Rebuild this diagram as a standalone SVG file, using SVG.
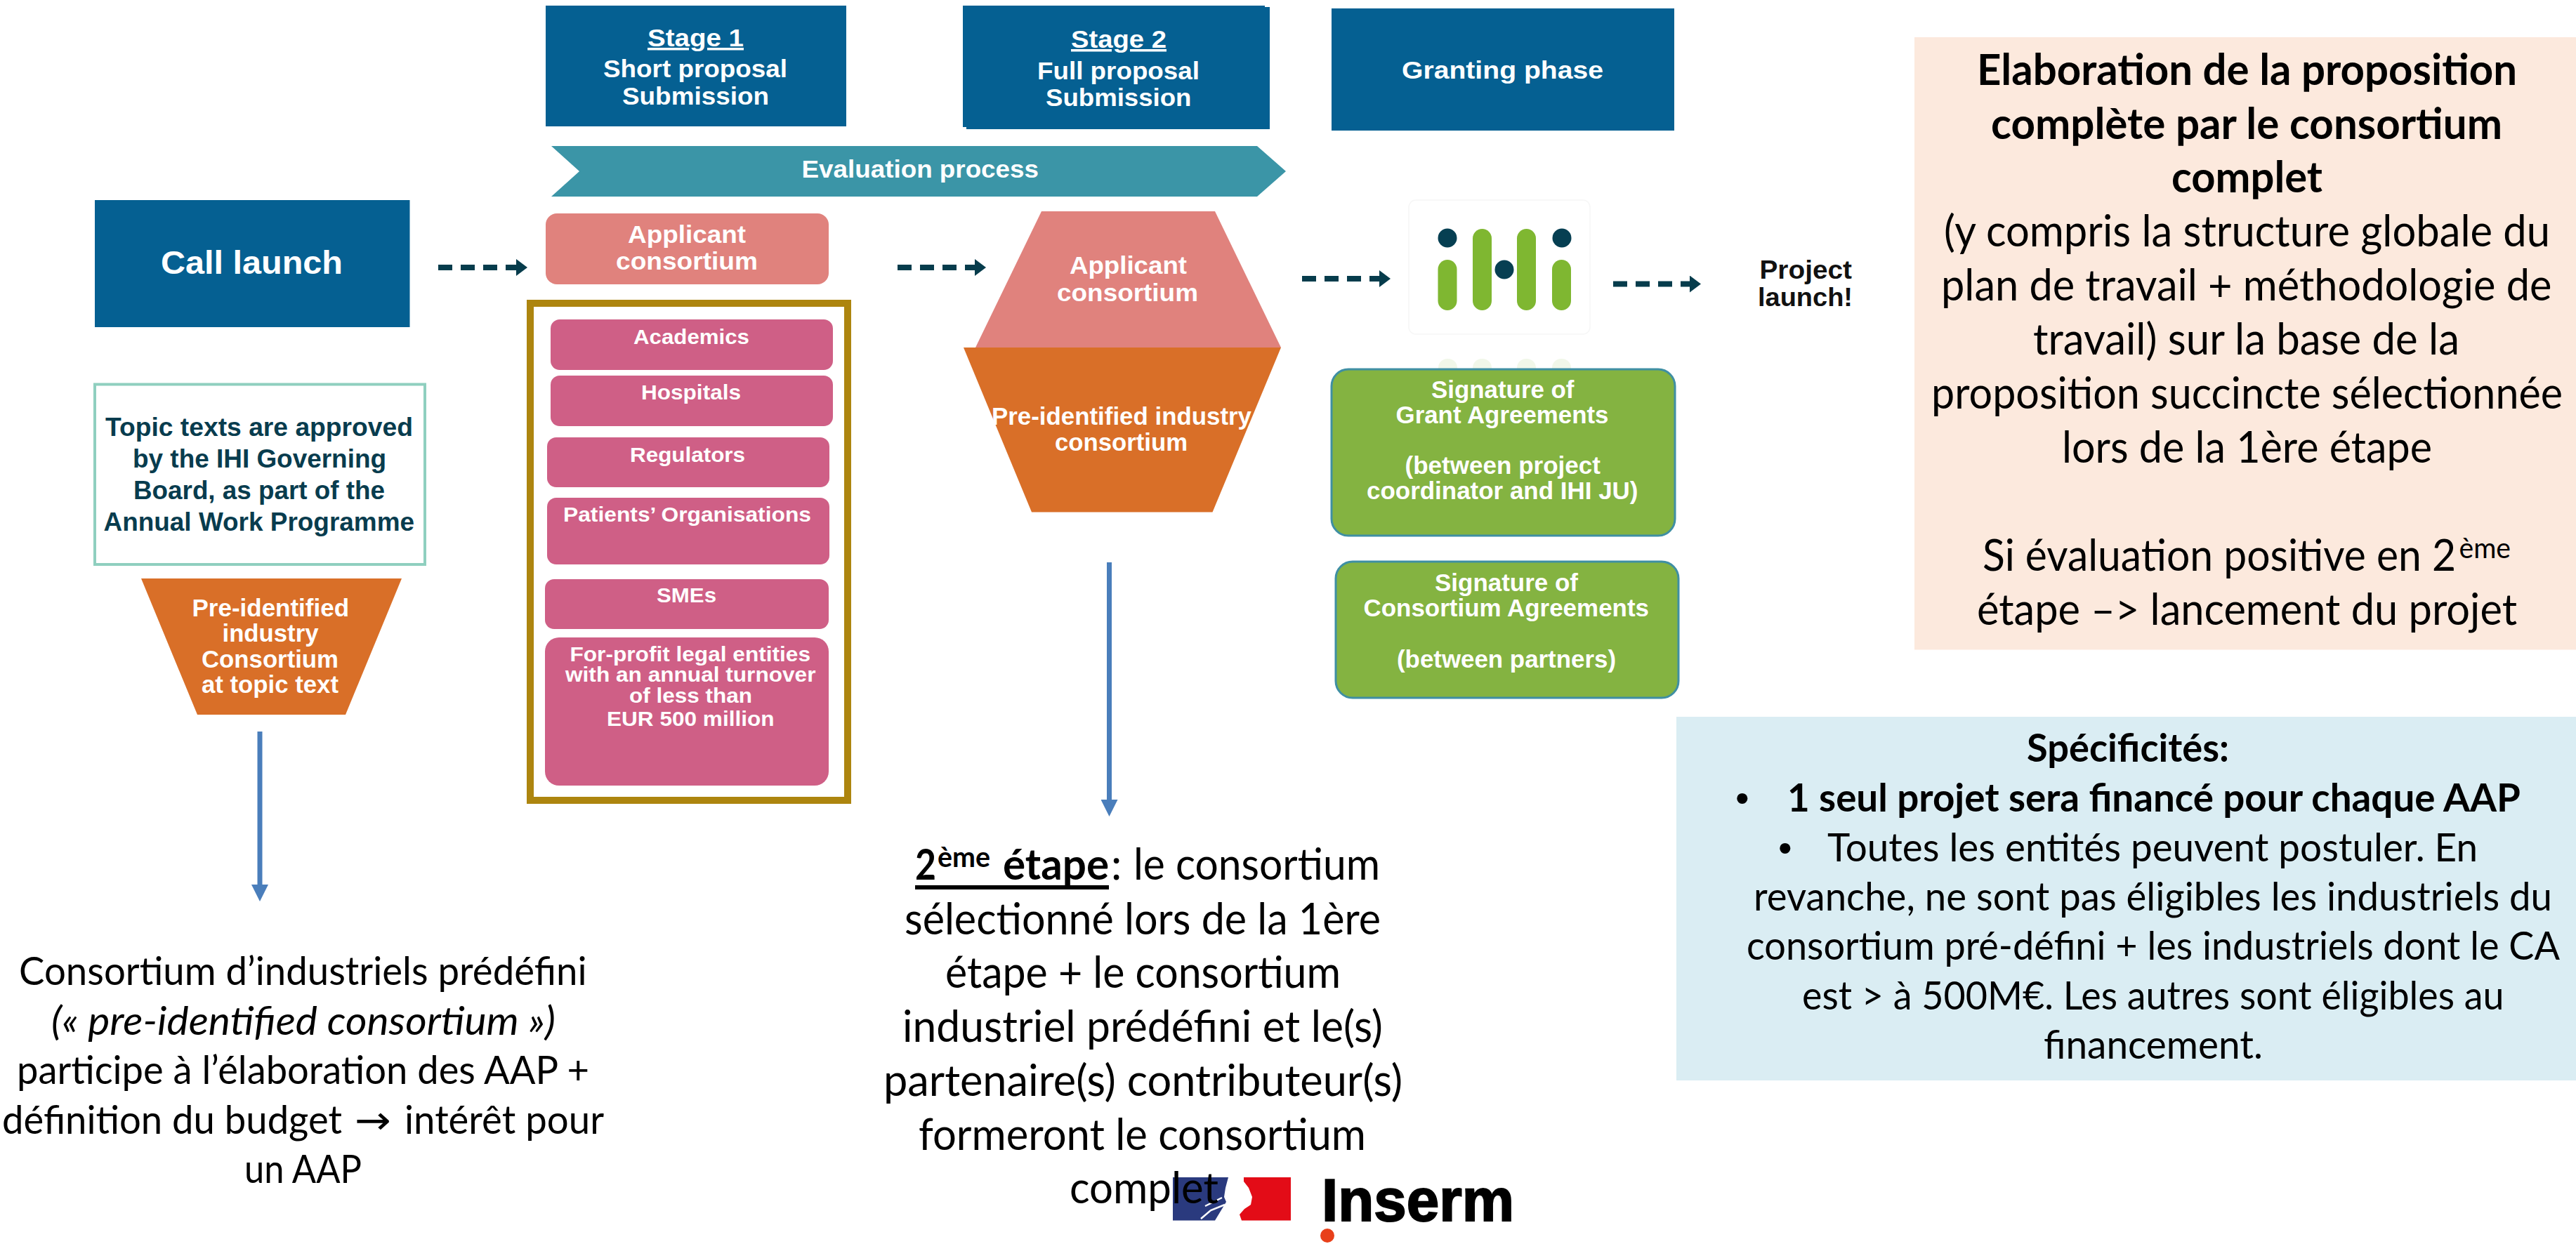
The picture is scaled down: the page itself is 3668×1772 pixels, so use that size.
<svg xmlns="http://www.w3.org/2000/svg" width="3668" height="1772" viewBox="0 0 3668 1772">
<defs>
<style>
text{white-space:pre}
.w{font-family:"Liberation Sans",Arial,sans-serif;font-weight:700;fill:#fff;font-size:35px}
.p{font-size:29px}
.d{font-family:"Liberation Sans",Arial,sans-serif;font-weight:700;fill:#083c4e;font-size:36px}
.k{font-family:"Liberation Sans",Arial,sans-serif;font-weight:700;fill:#111;font-size:37px}
.c{font-family:Lato,"Open Sans",sans-serif;fill:#000;font-size:61px}
.s{font-family:Lato,"Open Sans",sans-serif;fill:#000;font-size:56px}
.b{font-weight:700}
.dot{font-family:"Liberation Sans",Arial,sans-serif;font-weight:400}
.navy{fill:#056092}
.pink{fill:#cf5f86}
.sal{fill:#e0827d}
.org{fill:#d96f28}
.grn{fill:#84b341;stroke:#3f8fa3;stroke-width:3}
.lg{fill:#7fb731}
.ld{fill:#063f52}
.dash{fill:none;stroke:#063c4c;stroke-width:8;stroke-dasharray:20 12;marker-end:url(#hd)}
.blue{fill:none;stroke:#4a7ebb;stroke-width:7;marker-end:url(#hb)}
</style>
<marker id="hd" markerUnits="userSpaceOnUse" markerWidth="16" markerHeight="24" refX="0" refY="12" orient="auto" viewBox="0 0 16 24"><polygon points="0,0 16,12 0,24" fill="#063c4c"/></marker>
<marker id="hb" markerUnits="userSpaceOnUse" markerWidth="24" markerHeight="24" refX="0" refY="12" orient="auto" viewBox="0 0 24 24"><polygon points="0,0 24,12 0,24" fill="#4a7ebb"/></marker>
</defs>
<rect width="3668" height="1772" fill="#fff"/>

<g id="connectors">
<path class="dash" d="M624 381H735"/>
<path class="dash" d="M1278 381H1388"/>
<path class="dash" d="M1854 397H1964"/>
<path class="dash" d="M2297 404.500H2406"/>
<path class="blue" d="M370 1042V1260"/>
<path class="blue" d="M1579.500 801V1139"/>
</g>

<g id="stage1">
<rect class="navy" x="777" y="8" width="428" height="172"/>
<text class="w" text-anchor="start"><tspan x="922" y="66" textLength="137" lengthAdjust="spacingAndGlyphs" text-decoration="underline">Stage 1</tspan><tspan x="859" y="110" textLength="262" lengthAdjust="spacingAndGlyphs">Short proposal</tspan><tspan x="886" y="148.500" textLength="209" lengthAdjust="spacingAndGlyphs">Submission</tspan></text>
</g>
<g id="stage2">
<polygon class="navy" points="1371,8 1801,8 1801,10 1808,10 1808,184 1376,184 1376,181 1371,181"/>
<text class="w"><tspan x="1525" y="68" textLength="136" lengthAdjust="spacingAndGlyphs" text-decoration="underline">Stage 2</tspan><tspan x="1477" y="113" textLength="231" lengthAdjust="spacingAndGlyphs">Full proposal</tspan><tspan x="1489" y="151" textLength="207.500" lengthAdjust="spacingAndGlyphs">Submission</tspan></text>
</g>
<g id="granting">
<rect class="navy" x="1896" y="12" width="488" height="174"/>
<text class="w" x="1996" y="112" textLength="287" lengthAdjust="spacingAndGlyphs">Granting phase</text>
</g>
<g id="evaluation">
<polygon fill="#3b95a7" points="785,208 1790,208 1831,244 1790,280 785,280 825,244"/>
<text class="w" x="1141.500" y="252.500" textLength="337.500" lengthAdjust="spacingAndGlyphs">Evaluation process</text>
</g>
<g id="call-launch">
<rect class="navy" x="135" y="285" width="448.500" height="181"/>
<text class="w" style="font-size:47px" x="229" y="390" textLength="259" lengthAdjust="spacingAndGlyphs">Call launch</text>
</g>
<g id="applicant1">
<rect class="sal" x="777" y="304" width="403" height="101" rx="16"/>
<text class="w"><tspan x="894" y="345.500" textLength="168" lengthAdjust="spacingAndGlyphs">Applicant</tspan><tspan x="877" y="383.500" textLength="202" lengthAdjust="spacingAndGlyphs">consortium</tspan></text>
</g>
<g id="frame">
<rect x="755" y="432" width="452" height="708" fill="#fff" stroke="#ad850f" stroke-width="10"/>
</g>
<g id="academics"><rect class="pink" x="784" y="455" width="402" height="72" rx="13"/><text class="w p" x="902" y="490" textLength="165" lengthAdjust="spacingAndGlyphs">Academics</text></g>
<g id="hospitals"><rect class="pink" x="784" y="535" width="402" height="72" rx="13"/><text class="w p" x="913" y="569" textLength="142" lengthAdjust="spacingAndGlyphs">Hospitals</text></g>
<g id="regulators"><rect class="pink" x="779" y="623" width="402" height="71" rx="13"/><text class="w p" x="897" y="658" textLength="164" lengthAdjust="spacingAndGlyphs">Regulators</text></g>
<g id="patients"><rect class="pink" x="779" y="709" width="402" height="95" rx="13"/><text class="w p" x="802" y="743" textLength="353" lengthAdjust="spacingAndGlyphs">Patients’ Organisations</text></g>
<g id="smes"><rect class="pink" x="776" y="825" width="404" height="71" rx="13"/><text class="w p" x="935" y="858" textLength="85" lengthAdjust="spacingAndGlyphs">SMEs</text></g>
<g id="forprofit"><rect class="pink" x="776" y="908" width="404" height="211" rx="20"/>
<text class="w p"><tspan x="811.500" y="942" textLength="342.500" lengthAdjust="spacingAndGlyphs">For-profit legal entities</tspan><tspan x="805" y="971" textLength="356.500" lengthAdjust="spacingAndGlyphs">with an annual turnover</tspan><tspan x="896" y="1001" textLength="175" lengthAdjust="spacingAndGlyphs">of less than</tspan><tspan x="864" y="1034" textLength="238.500" lengthAdjust="spacingAndGlyphs">EUR 500 million</tspan></text></g>

<g id="topic">
<rect x="135" y="547.500" width="470" height="256.500" fill="#fff" stroke="#8fcfbf" stroke-width="4"/>
<text class="d"><tspan x="150" y="621" textLength="438" lengthAdjust="spacingAndGlyphs">Topic texts are approved</tspan><tspan x="189" y="666" textLength="361" lengthAdjust="spacingAndGlyphs">by the IHI Governing</tspan><tspan x="190" y="710.500" textLength="358" lengthAdjust="spacingAndGlyphs">Board, as part of the</tspan><tspan x="147.500" y="756" textLength="442.500" lengthAdjust="spacingAndGlyphs">Annual Work Programme</tspan></text>
</g>
<g id="preid-topic">
<polygon class="org" points="201,824 572,824 492,1018 281,1018"/>
<text class="w"><tspan x="273.500" y="878" textLength="223.500" lengthAdjust="spacingAndGlyphs">Pre-identified</tspan><tspan x="316.500" y="914" textLength="137" lengthAdjust="spacingAndGlyphs">industry</tspan><tspan x="287" y="951" textLength="195" lengthAdjust="spacingAndGlyphs">Consortium</tspan><tspan x="287" y="987" textLength="195" lengthAdjust="spacingAndGlyphs">at topic text</tspan></text>
</g>
<g id="applicant2">
<polygon class="sal" points="1483,301 1730,301 1824,495 1389,495"/>
<text class="w"><tspan x="1523" y="390" textLength="167" lengthAdjust="spacingAndGlyphs">Applicant</tspan><tspan x="1505" y="428.500" textLength="201" lengthAdjust="spacingAndGlyphs">consortium</tspan></text>
</g>
<g id="preid2">
<polygon class="org" points="1372,495 1824,495 1726.500,729.500 1469,729.500"/>
<text class="w"><tspan x="1412" y="605" textLength="370" lengthAdjust="spacingAndGlyphs">Pre-identified industry</tspan><tspan x="1502" y="641.500" textLength="189" lengthAdjust="spacingAndGlyphs">consortium</tspan></text>
</g>
<g id="ihi-logo">
<rect x="2006" y="285" width="258" height="191" rx="10" fill="#fff" stroke="#f6f6f6" stroke-width="1.500"/>
<g opacity="0.1"><rect class="lg" x="2048" y="511" width="27" height="30" rx="13"/><rect class="lg" x="2097" y="511" width="27" height="30" rx="13"/><rect class="lg" x="2160" y="511" width="27" height="30" rx="13"/><rect class="lg" x="2210" y="511" width="27" height="30" rx="13"/></g>
<rect class="lg" x="2047.500" y="370" width="27" height="72" rx="13.500"/>
<rect class="lg" x="2097" y="326" width="27" height="116" rx="13.500"/>
<rect class="lg" x="2160" y="326" width="27" height="116" rx="13.500"/>
<rect class="lg" x="2210" y="370" width="27" height="72" rx="13.500"/>
<circle class="ld" cx="2061" cy="339" r="13.500"/>
<circle class="ld" cx="2142" cy="384" r="13.500"/>
<circle class="ld" cx="2224" cy="339" r="13.500"/>
</g>
<g id="project-launch">
<text class="k"><tspan x="2505.500" y="397" textLength="131.500" lengthAdjust="spacingAndGlyphs">Project</tspan><tspan x="2503" y="436" textLength="135" lengthAdjust="spacingAndGlyphs">launch!</tspan></text>
</g>
<g id="grant-agreements">
<rect class="grn" x="1896" y="526" width="489" height="237" rx="24"/>
<text class="w"><tspan x="2038" y="567" textLength="203.500" lengthAdjust="spacingAndGlyphs">Signature of</tspan><tspan x="1987.500" y="603" textLength="303" lengthAdjust="spacingAndGlyphs">Grant Agreements</tspan><tspan x="2000.500" y="675" textLength="278.500" lengthAdjust="spacingAndGlyphs">(between project</tspan><tspan x="1946" y="711" textLength="386.500" lengthAdjust="spacingAndGlyphs">coordinator and IHI JU)</tspan></text>
</g>
<g id="consortium-agreements">
<rect class="grn" x="1902" y="800" width="488" height="194" rx="24"/>
<text class="w"><tspan x="2043" y="842" textLength="204" lengthAdjust="spacingAndGlyphs">Signature of</tspan><tspan x="1941.500" y="878" textLength="406.500" lengthAdjust="spacingAndGlyphs">Consortium Agreements</tspan><tspan x="1989" y="951" textLength="312" lengthAdjust="spacingAndGlyphs">(between partners)</tspan></text>
</g>

<g id="note-left">
<text class="s"><tspan x="27" y="1403" textLength="808.500" lengthAdjust="spacingAndGlyphs">Consortium d’industriels prédéfini</tspan><tspan x="73" y="1473.500" textLength="718" lengthAdjust="spacingAndGlyphs" font-style="italic">(« pre-identified consortium »)</tspan><tspan x="24" y="1544" textLength="815" lengthAdjust="spacingAndGlyphs">participe à l’élaboration des AAP +</tspan><tspan x="3" y="1614.500" textLength="484" lengthAdjust="spacingAndGlyphs">définition du budget</tspan><tspan x="505" y="1614.500" textLength="52" lengthAdjust="spacingAndGlyphs" font-family="DejaVu Sans">→</tspan><tspan x="576" y="1614.500" textLength="284" lengthAdjust="spacingAndGlyphs">intérêt pour</tspan><tspan x="348" y="1685" textLength="167" lengthAdjust="spacingAndGlyphs">un AAP</tspan></text>
</g>

<g id="inserm-logo">
<path fill="#2a3a7e" d="M1670 1677H1749L1745 1692L1743 1705L1746 1712L1740 1722L1730 1738.500H1670Z"/>
<path fill="none" stroke="#fff" stroke-width="2.500" d="M1710 1736L1724 1724L1744 1716M1716 1718L1728 1712L1740 1706"/>
<path fill="#e30c17" d="M1771 1677H1838V1738.500H1768L1765 1730L1772 1722L1781 1716L1783 1705L1778 1692L1771 1683Z"/>
<text x="1882" y="1738.500" textLength="274" lengthAdjust="spacingAndGlyphs" font-family="Liberation Sans,Arial,sans-serif" font-weight="700" font-size="85" fill="#000" stroke="#000" stroke-width="2">Inserm</text>
<circle cx="1890" cy="1760" r="10" fill="#e8401a"/>
</g>

<g id="note-middle">
<rect x="1303" y="1261" width="276" height="6" fill="#000"/>
<text class="c"><tspan class="b" x="1303" y="1253" textLength="30" lengthAdjust="spacingAndGlyphs">2</tspan><tspan class="b" x="1335" y="1235" textLength="75" lengthAdjust="spacingAndGlyphs" font-size="40">ème</tspan><tspan class="b" x="1428" y="1253" textLength="151" lengthAdjust="spacingAndGlyphs">étape</tspan><tspan x="1582" y="1253">:</tspan><tspan x="1614" y="1253" textLength="351" lengthAdjust="spacingAndGlyphs">le consortium</tspan><tspan x="1288" y="1330.500" textLength="678" lengthAdjust="spacingAndGlyphs">sélectionné lors de la 1ère</tspan><tspan x="1346" y="1407" textLength="563" lengthAdjust="spacingAndGlyphs">étape + le consortium</tspan><tspan x="1285" y="1483.500" textLength="684" lengthAdjust="spacingAndGlyphs">industriel prédéfini et le(s)</tspan><tspan x="1258" y="1561" textLength="739" lengthAdjust="spacingAndGlyphs">partenaire(s) contributeur(s)</tspan><tspan x="1308" y="1638" textLength="637" lengthAdjust="spacingAndGlyphs">formeront le consortium</tspan><tspan x="1523" y="1714" textLength="212" lengthAdjust="spacingAndGlyphs">complet</tspan></text>
</g>

<g id="note-elaboration">
<rect x="2726" y="53" width="942" height="872.500" fill="#fce9dd"/>
<text class="c"><tspan class="b" x="2815" y="121" textLength="769" lengthAdjust="spacingAndGlyphs">Elaboration de la proposition</tspan><tspan class="b" x="2835" y="198" textLength="728" lengthAdjust="spacingAndGlyphs">complète par le consortium</tspan><tspan class="b" x="3092" y="274" textLength="215" lengthAdjust="spacingAndGlyphs">complet</tspan><tspan x="2768" y="351" textLength="863" lengthAdjust="spacingAndGlyphs">(y compris la structure globale du</tspan><tspan x="2764" y="428" textLength="869.500" lengthAdjust="spacingAndGlyphs">plan de travail + méthodologie de</tspan><tspan x="2895" y="505" textLength="607" lengthAdjust="spacingAndGlyphs">travail) sur la base de la</tspan><tspan x="2750" y="582" textLength="899" lengthAdjust="spacingAndGlyphs">proposition succincte sélectionnée</tspan><tspan x="2936" y="659" textLength="527" lengthAdjust="spacingAndGlyphs">lors de la 1ère étape</tspan><tspan x="2823" y="812.500" textLength="674" lengthAdjust="spacingAndGlyphs">Si évaluation positive en 2</tspan><tspan x="3501.500" y="795" textLength="73.500" lengthAdjust="spacingAndGlyphs" font-size="40">ème</tspan><tspan x="2815" y="890" textLength="769" lengthAdjust="spacingAndGlyphs">étape –&gt; lancement du projet</tspan></text>
</g>

<g id="note-specificites">
<rect x="2387" y="1021" width="1281" height="518" fill="#daedf3"/>
<text class="s"><tspan class="b" x="2886" y="1085" textLength="288" lengthAdjust="spacingAndGlyphs">Spécificités:</tspan><tspan class="dot" x="2471" y="1156">•</tspan><tspan class="b" x="2545" y="1156" textLength="1044" lengthAdjust="spacingAndGlyphs">1 seul projet sera financé pour chaque AAP</tspan><tspan class="dot" x="2532" y="1226.500">•</tspan><tspan x="2602" y="1226.500" textLength="926" lengthAdjust="spacingAndGlyphs">Toutes les entités peuvent postuler. En</tspan><tspan x="2497" y="1297" textLength="1137" lengthAdjust="spacingAndGlyphs">revanche, ne sont pas éligibles les industriels du</tspan><tspan x="2487" y="1367" textLength="1158" lengthAdjust="spacingAndGlyphs">consortium pré-défini + les industriels dont le CA</tspan><tspan x="2566" y="1438" textLength="999.500" lengthAdjust="spacingAndGlyphs">est &gt; à 500M€. Les autres sont éligibles au</tspan><tspan x="2910" y="1508" textLength="312" lengthAdjust="spacingAndGlyphs">financement.</tspan></text>
</g>
</svg>
